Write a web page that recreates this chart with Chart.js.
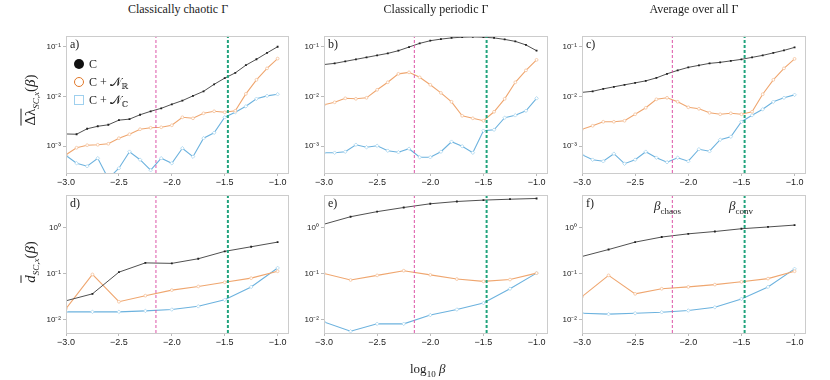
<!DOCTYPE html>
<html>
<head>
<meta charset="utf-8">
<script src="https://cdn.jsdelivr.net/npm/chart.js@4"></script>
<style>
  body { margin: 0; background: #fff; }
  #fig { position: relative; width: 830px; height: 380px; overflow: hidden; font-family: "Liberation Serif", "DejaVu Serif", serif; color: #222; }
  canvas { position: absolute; }
  .t { position: absolute; white-space: nowrap; }
  .title { font-size: 12px; transform: translateX(-50%); }
  .plab { font-size: 12px; }
  .ylab { font-size: 15px; transform: translate(-50%, -50%) rotate(-90deg); }
  .ylab .ov { text-decoration: overline; }
  .ylab sub, .b sub { font-size: 9px; }
  .leg { font-size: 12px; }
  .mk { position: absolute; box-sizing: border-box; }
</style>
</head>
<body>
<div id="fig">
  <canvas id="pa"></canvas><canvas id="pb"></canvas><canvas id="pc"></canvas>
  <canvas id="pd"></canvas><canvas id="pe"></canvas><canvas id="pf"></canvas>

  <div class="t title" style="left:178px;top:2px">Classically chaotic Γ</div>
  <div class="t title" style="left:436px;top:2px">Classically periodic Γ</div>
  <div class="t title" style="left:694px;top:2px">Average over all Γ</div>

  <div class="t plab" style="left:70px;top:37px">a)</div>
  <div class="t plab" style="left:328px;top:37px">b)</div>
  <div class="t plab" style="left:586px;top:37px">c)</div>
  <div class="t plab" style="left:70px;top:196px">d)</div>
  <div class="t plab" style="left:328px;top:196px">e)</div>
  <div class="t plab" style="left:586px;top:196px">f)</div>

  <div class="t ylab" style="left:31px;top:100px"><span class="ov">Δλ</span><sub><i>SC,x</i></sub>(<i>β</i>)</div>
  <div class="t ylab" style="left:31px;top:262px"><span class="ov"><i>d</i></span><sub><i>SC,x</i></sub>(<i>β</i>)</div>
  <div class="t" style="left:410px;top:361px;font-size:13px">log<sub style="font-size:9px">10</sub> <i>β</i></div>

  <div class="t b" style="left:654px;top:198px;font-size:13px"><i>β</i><sub>chaos</sub></div>
  <div class="t b" style="left:729px;top:198px;font-size:13px"><i>β</i><sub>conv</sub></div>

  <div class="mk" style="left:74px;top:59px;width:10px;height:10px;border-radius:50%;background:#111"></div>
  <div class="mk" style="left:74px;top:77px;width:10px;height:10px;border-radius:50%;border:1.5px solid #e0782a"></div>
  <div class="mk" style="left:74px;top:95px;width:10px;height:10px;border:1px solid #9fd0ee"></div>
  <div class="t leg" style="left:89px;top:57px">C</div>
  <div class="t leg" style="left:89px;top:75px">C + 𝒩<sub style="font-size:8px">ℝ</sub></div>
  <div class="t leg" style="left:89px;top:93px">C + 𝒩<sub style="font-size:8px">ℂ</sub></div>
</div>

<script>
// x grids (log10 beta)
const xTop = [-3.0,-2.9,-2.8,-2.7,-2.6,-2.5,-2.4,-2.3,-2.2,-2.1,-2.0,-1.9,-1.8,-1.7,-1.6,-1.5,-1.4,-1.3,-1.2,-1.1,-1.0];
const xBottom = [-3.0,-2.75,-2.5,-2.25,-2.0,-1.75,-1.5,-1.25,-1.0];
const xTicks = [-3.0,-2.5,-2.0,-1.5,-1.0];
const xRange = [-3.0, -0.9];

const betaChaos = -2.15;
const betaConv = -1.47;

// top row: mean Delta lambda
const aC  = [1.76e-3,1.74e-3,2.24e-3,2.51e-3,2.69e-3,3.33e-3,3.49e-3,4.27e-3,5.01e-3,5.75e-3,6.92e-3,8.20e-3,1.02e-2,1.26e-2,1.74e-2,2.31e-2,2.95e-2,4.20e-2,5.52e-2,7.41e-2,9.84e-2];
const aNR = [6.76e-4,9.33e-4,1.05e-3,1.07e-3,1.12e-3,1.45e-3,1.74e-3,2.19e-3,2.34e-3,2.40e-3,2.63e-3,3.80e-3,3.63e-3,4.57e-3,5.01e-3,4.79e-3,5.13e-3,1.12e-2,2.14e-2,3.63e-2,5.69e-2];
const aNC = [6.53e-4,4.57e-4,3.98e-4,5.75e-4,2.24e-4,3.63e-4,7.76e-4,5.37e-4,3.31e-4,5.75e-4,4.57e-4,9.12e-4,6.17e-4,1.45e-3,1.86e-3,3.80e-3,4.79e-3,6.31e-3,8.91e-3,1.02e-2,1.10e-2];

const bC  = [4.33e-2,4.57e-2,5.01e-2,5.50e-2,6.03e-2,6.61e-2,7.24e-2,8.20e-2,9.70e-2,1.15e-1,1.30e-1,1.40e-1,1.48e-1,1.53e-1,1.55e-1,1.53e-1,1.48e-1,1.38e-1,1.26e-1,1.07e-1,8.20e-2];
const bNR = [6.76e-3,7.59e-3,9.12e-3,8.91e-3,9.33e-3,1.35e-2,1.91e-2,2.82e-2,3.02e-2,2.40e-2,1.70e-2,1.17e-2,7.76e-3,4.07e-3,3.63e-3,3.24e-3,4.90e-3,8.91e-3,1.91e-2,3.31e-2,5.37e-2];
const bNC = [7.41e-4,7.41e-4,7.76e-4,1.07e-3,9.55e-4,1.02e-3,8.13e-4,7.59e-4,8.91e-4,6.03e-4,6.03e-4,7.76e-4,1.23e-3,1.00e-3,7.41e-4,2.04e-3,2.14e-3,3.72e-3,4.17e-3,5.13e-3,9.12e-3];

const cC  = [1.20e-2,1.26e-2,1.41e-2,1.55e-2,1.70e-2,1.86e-2,2.04e-2,2.34e-2,2.82e-2,3.31e-2,3.80e-2,4.17e-2,4.57e-2,4.79e-2,5.13e-2,5.50e-2,6.03e-2,6.61e-2,7.41e-2,8.32e-2,9.55e-2];
const cNR = [2.19e-3,2.57e-3,3.09e-3,3.09e-3,3.24e-3,4.37e-3,5.89e-3,8.71e-3,9.33e-3,7.76e-3,6.03e-3,5.62e-3,4.68e-3,4.37e-3,4.57e-3,4.37e-3,4.90e-3,1.10e-2,2.14e-2,3.63e-2,5.62e-2];
const cNC = [6.76e-4,5.37e-4,5.01e-4,7.08e-4,4.47e-4,5.37e-4,7.76e-4,5.89e-4,4.79e-4,5.89e-4,5.01e-4,8.71e-4,7.94e-4,1.35e-3,1.55e-3,3.09e-3,4.17e-3,5.50e-3,7.76e-3,9.33e-3,1.07e-2];

// bottom row: mean d
const dC  = [2.57e-2,3.63e-2,1.07e-1,1.70e-1,1.66e-1,2.09e-1,3.02e-1,3.80e-1,4.79e-1];
const dNR = [1.74e-2,9.55e-2,2.45e-2,3.31e-2,4.37e-2,5.25e-2,6.46e-2,7.94e-2,1.12e-1];
const dNC = [1.48e-2,1.48e-2,1.48e-2,1.55e-2,1.66e-2,1.95e-2,2.69e-2,5.13e-2,1.32e-1];

const eC  = [1.17,1.70,2.19,2.69,3.24,3.63,3.89,4.07,4.22];
const eNR = [1.00e-1,7.24e-2,9.12e-2,1.15e-1,9.33e-2,7.59e-2,6.76e-2,7.41e-2,1.02e-1];
const eNC = [8.91e-3,5.62e-3,8.13e-3,8.13e-3,1.26e-2,1.66e-2,2.29e-2,4.68e-2,1.02e-1];

const fC  = [0.234,0.331,0.479,0.617,0.724,0.813,0.933,1.02,1.12];
const fNR = [3.16e-2,9.12e-2,3.63e-2,4.68e-2,5.13e-2,5.75e-2,6.61e-2,7.76e-2,1.12e-1];
const fNC = [1.38e-2,1.32e-2,1.38e-2,1.45e-2,1.58e-2,1.86e-2,2.82e-2,5.13e-2,1.26e-1];

const topRange = [2.91e-4, 0.163];
const topTicks = [1e-3, 1e-2, 1e-1];
const topTickLabels = ['10⁻³', '10⁻²', '10⁻¹'];
const botRange = [5.15e-3, 5.07];
const botTicks = [1e-2, 1e-1, 1];
const botTickLabels = ['10⁻²', '10⁻¹', '10⁰'];

const frame = {
  id: 'frame',
  afterDraw(chart) {
    const a = chart.chartArea, ctx = chart.ctx;
    ctx.save();
    ctx.strokeStyle = '#cccccc';
    ctx.lineWidth = 1;
    ctx.strokeRect(Math.round(a.left) + 0.5, Math.round(a.top) + 0.5, Math.round(a.right - a.left), Math.round(a.bottom - a.top));
    ctx.restore();
  }
};

function pts(xs, ys) { return ys.map((v, i) => ({x: xs[i], y: v})); }

function vline(x, range, color, width) {
  return { data: [{x: x, y: range[0]}, {x: x, y: range[1]}], borderColor: color, borderWidth: width,
    borderDash: [3, 2], pointRadius: 0, fill: false };
}

function panel(id, box, xs, c, nr, nc, yRange, yTicks, yLabels) {
  const padL = 34, padT = 6, padR = 4, padB = 22;
  const cv = document.getElementById(id);
  cv.style.left = (box[0] - padL) + 'px';
  cv.style.top = (box[1] - padT) + 'px';
  cv.width = box[2] + padL + padR;
  cv.height = box[3] + padT + padB;
  new Chart(cv, {
    type: 'line',
    data: {
      datasets: [
        vline(betaConv, yRange, '#20a37c', 2),
        vline(betaChaos, yRange, '#dd55a8', 1),
        { data: pts(xs, c), borderColor: '#505050', borderWidth: 1, pointStyle: 'rect', pointRadius: 1.3,
          pointBackgroundColor: '#222', pointBorderWidth: 0, fill: false },
        { data: pts(xs, nr), borderColor: '#efa66f', borderWidth: 1.1, pointStyle: 'circle', pointRadius: 1.4,
          pointBackgroundColor: '#fff', pointBorderColor: '#f5c29a', pointBorderWidth: 0.8, fill: false },
        { data: pts(xs, nc), borderColor: '#6cb2de', borderWidth: 1.1, pointStyle: 'rectRot', pointRadius: 1.8,
          pointBackgroundColor: '#fff', pointBorderColor: '#a9d5ef', pointBorderWidth: 0.8, fill: false }
      ]
    },
    options: {
      responsive: false, animation: false, events: [],
      layout: { padding: { top: padT, right: padR, left: 0, bottom: 0 } },
      plugins: { legend: { display: false }, tooltip: { enabled: false } },
      scales: {
        x: {
          type: 'linear', min: xRange[0], max: xRange[1],
          afterBuildTicks: s => { s.ticks = xTicks.map(v => ({value: v})); },
          afterFit: s => { s.height = padB; },
          grid: { drawOnChartArea: false, tickLength: 3, color: '#bbb' },
          border: { display: false },
          ticks: { padding: 1, color: '#222', font: { family: 'Liberation Sans', size: 9 },
            callback: v => (v < 0 ? '−' : '') + Math.abs(v).toFixed(1) }
        },
        y: {
          type: 'logarithmic', min: yRange[0], max: yRange[1],
          afterBuildTicks: s => { s.ticks = yTicks.map(v => ({value: v})); },
          afterFit: s => { s.width = padL; },
          grid: { drawOnChartArea: false, tickLength: 3, color: '#bbb' },
          border: { display: false },
          ticks: { padding: 2, color: '#222', font: { family: 'Liberation Sans', size: 8 },
            callback: v => yLabels[yTicks.indexOf(v)] }
        }
      }
    },
    plugins: [frame]
  });
}

panel('pa', [66, 35, 223, 138], xTop, aC, aNR, aNC, topRange, topTicks, topTickLabels);
panel('pb', [324, 35, 224, 138], xTop, bC, bNR, bNC, topRange, topTicks, topTickLabels);
panel('pc', [582, 35, 224, 138], xTop, cC, cNR, cNC, topRange, topTicks, topTickLabels);
panel('pd', [66, 194, 223, 139], xBottom, dC, dNR, dNC, botRange, botTicks, botTickLabels);
panel('pe', [324, 194, 224, 139], xBottom, eC, eNR, eNC, botRange, botTicks, botTickLabels);
panel('pf', [582, 194, 224, 139], xBottom, fC, fNR, fNC, botRange, botTicks, botTickLabels);
</script>
</body>
</html>
